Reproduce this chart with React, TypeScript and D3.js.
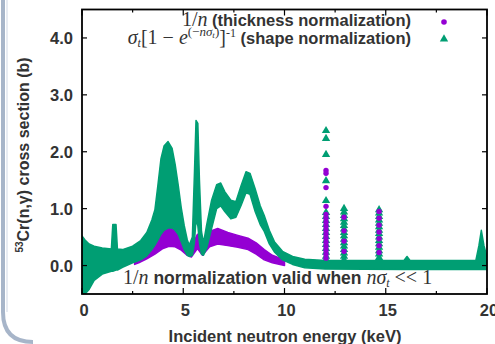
import React from 'react';
import * as d3 from 'd3';

const W = 495;
const H = 344;

const X_DOMAIN = [0, 20];
const Y_DOMAIN = [-0.5, 4.5];
const X_MAJOR = [0, 5, 10, 15, 20];
const X_LABELS = ['0', '5', '10', '15', '20'];
const X_MINOR = [2.5, 7.5, 12.5, 17.5];
const Y_MAJOR = [0, 1, 2, 3, 4];
const Y_LABELS = ['0.0', '1.0', '2.0', '3.0', '4.0'];

// shape normalization band (green): energy, lower edge, upper edge
const greenE = [0.0, 0.15, 0.35, 0.6, 1.0, 1.45, 1.52, 1.68, 1.75, 2.0, 2.5, 2.9, 3.2, 3.45, 3.6, 3.75, 3.9, 4.05, 4.25, 4.45, 4.6, 4.75, 4.9, 5.05, 5.2, 5.3, 5.45, 5.55, 5.63, 5.72, 5.8, 5.9, 6.0, 6.15, 6.4, 6.65, 6.85, 7.05, 7.35, 7.6, 7.85, 8.1, 8.3, 8.55, 8.8, 9.0, 9.25, 9.5, 9.9, 10.4, 11.0, 12.0, 15.9, 16.05, 16.2, 19.45, 19.6, 19.72, 19.85, 20.0];
const greenLo = [-0.5, -0.5, -0.42, -0.26, -0.15, -0.1, -0.1, -0.08, -0.08, -0.03, 0.05, 0.1, 0.17, 0.28, 0.36, 0.45, 0.55, 0.62, 0.66, 0.66, 0.62, 0.55, 0.42, 0.28, 0.18, 0.16, 0.18, 0.4, 0.8, 0.7, 0.4, 0.2, 0.18, 0.3, 0.65, 1.0, 1.05, 0.95, 0.82, 0.85, 1.05, 1.28, 1.25, 0.95, 0.72, 0.6, 0.38, 0.24, 0.1, 0.02, -0.04, -0.06, -0.07, -0.07, -0.07, -0.07, -0.07, -0.07, -0.07, -0.07];
const greenHi = [0.52, 0.45, 0.38, 0.34, 0.31, 0.29, 0.72, 0.72, 0.29, 0.28, 0.34, 0.44, 0.58, 0.8, 0.98, 1.42, 1.88, 2.1, 2.18, 2.06, 1.78, 1.42, 1.02, 0.7, 0.45, 0.36, 0.5, 1.6, 2.55, 2.5, 1.5, 0.6, 0.4, 0.7, 1.15, 1.42, 1.45, 1.3, 1.15, 1.12, 1.4, 1.65, 1.62, 1.35, 1.05, 0.88, 0.62, 0.42, 0.25, 0.16, 0.11, 0.09, 0.09, 0.16, 0.09, 0.09, 0.35, 0.62, 0.35, 0.15];

// thickness normalization band (purple)
const purpleE = [2.6, 2.8, 3.2, 3.6, 4.0, 4.3, 4.6, 4.9, 5.2, 5.4, 5.7, 5.95, 6.3, 6.7, 7.2, 7.7, 8.2, 8.6, 9.0, 9.4, 10.0];
const purpleLo = [0.02, 0.05, 0.12, 0.2, 0.3, 0.34, 0.33, 0.27, 0.18, 0.15, 0.3, 0.18, 0.33, 0.38, 0.35, 0.32, 0.28, 0.2, 0.1, 0.05, 0.0];
const purpleHi = [0.15, 0.2, 0.35, 0.48, 0.62, 0.67, 0.62, 0.52, 0.38, 0.32, 0.55, 0.35, 0.6, 0.65, 0.58, 0.53, 0.48, 0.4, 0.28, 0.18, 0.1];

// isolated resonances drawn as point columns
const spikeE = [12.05, 12.94, 14.67];
const spikeGreen = [
  [2.37, 2.23, 1.95, 1.49, 1.14, 0.93, 0.86, 0.79, 0.72, 0.65, 0.58, 0.51, 0.44, 0.37, 0.3, 0.23, 0.16, 0.1],
  [1.0, 0.94, 0.88, 0.82, 0.76, 0.7, 0.64, 0.58, 0.52, 0.46, 0.4, 0.34, 0.28, 0.22, 0.16, 0.1],
  [0.98, 0.92, 0.86, 0.8, 0.74, 0.68, 0.62, 0.56, 0.5, 0.44, 0.38, 0.32, 0.26, 0.2, 0.14],
];
const spikePurple = [
  [1.67, 1.62, 1.37, 1.04, 0.9, 0.83, 0.76, 0.69, 0.62, 0.55, 0.48, 0.41, 0.34, 0.27, 0.2, 0.13],
  [0.85, 0.61, 0.43, 0.25],
  [0.95, 0.83, 0.71, 0.59, 0.47, 0.35, 0.23],
];

const GREEN = '#009e73';
const PURPLE = '#9400d3';
const SANS = '"Liberation Sans", Arial, sans-serif';
const SERIF = '"Liberation Serif", "DejaVu Serif", serif';

const L = 82, R = 487, T = 9.5, B = 294;

export default function App() {
  const x = d3.scaleLinear().domain(X_DOMAIN).range([L, R]);
  const y = d3.scaleLinear().domain(Y_DOMAIN).range([B, T]);

  const green = greenE.map((e, i) => ({ e, lo: greenLo[i], hi: greenHi[i] }));
  const purple = purpleE.map((e, i) => ({ e, lo: purpleLo[i], hi: purpleHi[i] }));
  const area = d3
    .area<{ e: number; lo: number; hi: number }>()
    .x((d) => x(d.e))
    .y0((d) => y(d.lo))
    .y1((d) => y(d.hi));
  const tri = d3.symbol().type(d3.symbolTriangle).size(30)() as string;

  return (
    <svg width={W} height={H} style={{ position: 'absolute', left: 0, top: 0, background: '#fff' }}>
      <rect x={0} y={0} width={W} height={H} fill="#fff" />
      {/* slide frame */}
      <path d="M3,0 V312 Q3,342 33,342" fill="none" stroke="#a7b5c9" strokeWidth={4} />
      <path d="M7,0 V312" fill="none" stroke="#dfe5ee" strokeWidth={1.5} />
      <defs>
        <clipPath id="plot">
          <rect x={L} y={T} width={R - L} height={B - T} />
        </clipPath>
      </defs>
      <g clipPath="url(#plot)">
        <path d={area(purple) as string} fill={PURPLE} stroke={PURPLE} strokeWidth={1.5} strokeLinejoin="round" />
        <path d={area(green) as string} fill={GREEN} stroke={GREEN} strokeWidth={1.5} strokeLinejoin="round" />
        {spikeE.map((e, k) => (
          <g key={k}>
            {spikeGreen[k].map((v, i) => (
              <path key={'g' + i} d={tri} transform={`translate(${x(e)},${y(v)})`} fill={GREEN} />
            ))}
            {spikePurple[k].map((v, i) => (
              <circle key={'p' + i} cx={x(e)} cy={y(v)} r={2.7} fill={PURPLE} />
            ))}
          </g>
        ))}
      </g>
      {/* frame */}
      <rect x={L} y={T} width={R - L} height={B - T} fill="none" stroke="#000" strokeWidth={1.8} />
      {X_MAJOR.map((v) => (
        <g key={'xm' + v}>
          <line x1={x(v)} x2={x(v)} y1={B} y2={B - 6} stroke="#000" strokeWidth={1.2} />
          <line x1={x(v)} x2={x(v)} y1={T} y2={T + 6} stroke="#000" strokeWidth={1.2} />
        </g>
      ))}
      {X_MINOR.map((v) => (
        <g key={'xn' + v}>
          <line x1={x(v)} x2={x(v)} y1={B} y2={B - 3} stroke="#000" strokeWidth={1.2} />
          <line x1={x(v)} x2={x(v)} y1={T} y2={T + 3} stroke="#000" strokeWidth={1.2} />
        </g>
      ))}
      {Y_MAJOR.map((v) => (
        <g key={'ym' + v}>
          <line x1={L} x2={L + 5} y1={y(v)} y2={y(v)} stroke="#000" strokeWidth={1.2} />
          <line x1={R} x2={R - 5} y1={y(v)} y2={y(v)} stroke="#000" strokeWidth={1.2} />
        </g>
      ))}
      {/* tick labels */}
      {X_MAJOR.map((v, i) => (
        <text key={'xl' + v} x={x(v) + 2} y={316} textAnchor="middle" fontFamily={SANS} fontWeight="bold" fontSize={16.5} fill="#333">
          {X_LABELS[i]}
        </text>
      ))}
      {Y_MAJOR.map((v, i) => (
        <text key={'yl' + v} x={73} y={y(v) + 6} textAnchor="end" fontFamily={SANS} fontWeight="bold" fontSize={16.5} fill="#333">
          {Y_LABELS[i]}
        </text>
      ))}
      {/* axis titles */}
      <text x={285} y={342} textAnchor="middle" fontFamily={SANS} fontWeight="bold" fontSize={16.5} fill="#333">
        Incident neutron energy (keV)
      </text>
      <text transform="translate(29,155) rotate(-90)" textAnchor="middle" fontFamily={SANS} fontWeight="bold" fontSize={16} fill="#333">
        <tspan fontSize={10} dy={-6}>53</tspan>
        <tspan dy={6}>Cr(n,γ) cross section (b)</tspan>
      </text>
      {/* legend */}
      <text x={411} y={26} textAnchor="end" fill="#333">
        <tspan fontFamily={SERIF} fontSize={20}>1/</tspan>
        <tspan fontFamily={SERIF} fontStyle="italic" fontSize={20}>n</tspan>
        <tspan fontFamily={SANS} fontWeight="bold" fontSize={16.5}> (thickness normalization)</tspan>
      </text>
      <text x={411} y={44} textAnchor="end" fill="#333">
        <tspan fontFamily={SERIF} fontStyle="italic" fontSize={20}>σ</tspan>
        <tspan fontFamily={SERIF} fontStyle="italic" fontSize={12} dy={3}>t</tspan>
        <tspan fontFamily={SERIF} fontSize={20} dy={-3}>[1 − </tspan>
        <tspan fontFamily={SERIF} fontStyle="italic" fontSize={20}>e</tspan>
        <tspan fontFamily={SERIF} fontSize={13} dy={-8}>(−</tspan>
        <tspan fontFamily={SERIF} fontStyle="italic" fontSize={13}>nσ</tspan>
        <tspan fontFamily={SERIF} fontStyle="italic" fontSize={9} dy={2}>t</tspan>
        <tspan fontFamily={SERIF} fontSize={13} dy={-2}>)</tspan>
        <tspan fontFamily={SERIF} fontSize={20} dy={8}>]</tspan>
        <tspan fontFamily={SERIF} fontSize={12} dy={-7}>-1</tspan>
        <tspan fontFamily={SANS} fontWeight="bold" fontSize={16.5} dy={7}> (shape normalization)</tspan>
      </text>
      <circle cx={444} cy={22} r={2.8} fill={PURPLE} />
      <path d={tri} transform="translate(444,39)" fill={GREEN} />
      {/* annotation */}
      <text x={123} y={284} fill="#333">
        <tspan fontFamily={SERIF} fontSize={20}>1/</tspan>
        <tspan fontFamily={SERIF} fontStyle="italic" fontSize={20}>n</tspan>
        <tspan fontFamily={SANS} fontWeight="bold" fontSize={17.5}> normalization valid when </tspan>
        <tspan fontFamily={SERIF} fontStyle="italic" fontSize={20}>nσ</tspan>
        <tspan fontFamily={SERIF} fontStyle="italic" fontSize={12} dy={3}>t</tspan>
        <tspan fontFamily={SERIF} fontSize={20} dy={-3}> &lt;&lt; 1</tspan>
      </text>
    </svg>
  );
}
